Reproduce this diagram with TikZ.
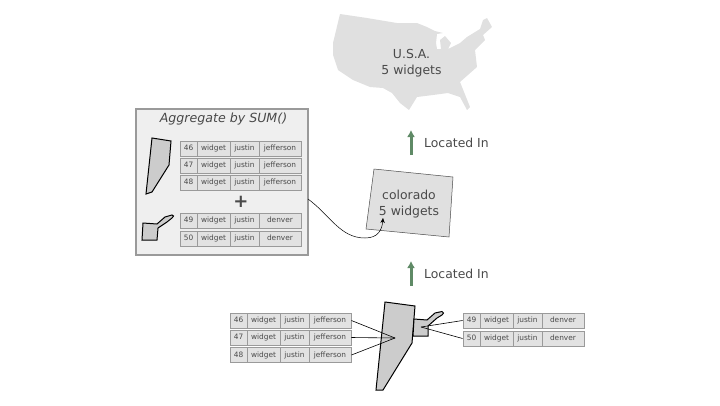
\documentclass[tikz,border=0pt]{standalone}
\usepackage{fontspec}
\setmainfont{DejaVu Sans}
\usetikzlibrary{arrows.meta}
\definecolor{textgray}{HTML}{4A4A4A}
\definecolor{shapegray}{HTML}{CCCCCC}
\definecolor{mapgray}{HTML}{E0E0E0}
\definecolor{cellgray}{HTML}{E2E2E2}
\definecolor{boxgray}{HTML}{EFEFEF}
\definecolor{linegray}{HTML}{9A9A9A}
\definecolor{arrowgreen}{HTML}{5F8A66}
\tikzset{
  cell/.style={draw=linegray,line width=0.9pt,fill=cellgray,text=textgray,inner sep=0pt,minimum height=15pt,text height=5.6pt,text depth=1.4pt,font=\fontsize{7.4}{8}\selectfont},
  county/.style={draw=black,line width=1pt,fill=shapegray,line join=miter},
  link/.style={black,line width=0.6pt},
  locatedin/.style={arrowgreen,line width=3pt,-{Latex[length=7pt,width=8pt]}},
  biglabel/.style={text=textgray,align=center,inner sep=0pt,font=\fontsize{12.4}{16}\selectfont},
  sidelabel/.style={text=textgray,anchor=west,inner sep=0pt,font=\fontsize{12.4}{14}\selectfont}
}
% one row: name, left edge, middle of row, id, county
\newcommand{\recordrow}[5]{
  \node[cell,minimum width=17pt] (#1id) at (#2+8.5,#3) {#4};
  \node[cell,minimum width=33pt] (#1item) at (#2+33.5,#3) {widget};
  \node[cell,minimum width=29pt] (#1user) at (#2+64.5,#3) {justin};
  \node[cell,minimum width=42pt] (#1place) at (#2+100,#3) {#5};
}
\begin{document}
\begin{tikzpicture}[x=1pt,y=-1pt]
    \useasboundingbox (0,0) rectangle (720,405);

    % the country
    \fill[mapgray,line join=round] (340,14)--(367,18)--(397,23)--(417,23)--(427,27)--(435,31)--(443,33)--(437,34)--(436,43)--(437,49)--(441,49)--(440,40)--(445,36)--(451,43)--(448,49)--(460,43)--(467,37)--(480,29)--(483,20)--(487,18)--(492,27)--(483,35)--(485,40)--(475,50)--(477,67)--(460,82)--(470,107)--(467,110)--(460,97)--(448,93)--(433,95)--(417,97)--(409,110)--(400,103)--(392,93)--(383,88)--(370,87)--(353,80)--(338,70)--(333,55)--(333,43)--cycle;
    \node[biglabel] (usa) at (411.5,63) {U.S.A.\\5 widgets};

    \coordinate (usafoot) at (411,130);
    \coordinate (coloradotop) at (411,155);
    \draw[locatedin] (coloradotop)--(usafoot);
    \node[sidelabel] (locatedupper) at (424,142.5) {Located In};

    % the state
    \filldraw[fill=mapgray,draw=textgray,line width=0.5pt] (374,169)--(453,177)--(449,237)--(366,229)--cycle;
    \node[biglabel] (colorado) at (409,204) {colorado\\5 widgets};

    \coordinate (coloradofoot) at (411,261);
    \coordinate (countiestop) at (411,286);
    \draw[locatedin] (countiestop)--(coloradofoot);
    \node[sidelabel] (locatedlower) at (424,273.5) {Located In};

    % the aggregate box
    \node[draw=linegray,line width=1.4pt,fill=boxgray,minimum width=172pt,minimum height=146pt,inner sep=0pt] (aggbox) at (222,182) {};
    \node[text=textgray,inner sep=0pt,font=\fontsize{12.6}{14}\selectfont\itshape] (aggtitle) at (223.5,119) {Aggregate by SUM()};
    \filldraw[county] (152,138)--(171,141)--(169,165)--(152,192)--(146,194)--cycle;
    \filldraw[county] (143,223)--(157,224)--(165,217)--(172,215)--(173.5,216)--(172,218)--(167,222)--(158,228)--(157,240)--(142,240)--cycle;
    \recordrow{boxa}{180}{148.5}{46}{jefferson}
    \recordrow{boxb}{180}{165.5}{47}{jefferson}
    \recordrow{boxc}{180}{182.5}{48}{jefferson}
    \node[text=textgray,inner sep=0pt,font=\fontsize{18}{18}\selectfont\bfseries] (plus) at (241,201.5) {+};
    \recordrow{boxd}{180}{220.5}{49}{denver}
    \recordrow{boxe}{180}{238.5}{50}{denver}

    \coordinate (curvestart) at (308,199);
    \coordinate (curveend) at (383,218);
    \draw[black,line width=0.5pt,-{Stealth[length=5pt,width=4.5pt]}] (curvestart) .. controls (330,215) and (340,238) .. (365,238) .. controls (378,238) and (382,230) .. (curveend);

    % the counties with their rows
    \filldraw[county] (385,302)--(415,306)--(412,343)--(383,390)--(376,390)--cycle;
    \filldraw[county] (414,319)--(427,320)--(435,313)--(442,311.5)--(443.5,313)--(442,315)--(437,318)--(428,326)--(428,336)--(413,336)--cycle;
    \coordinate (jeffhub) at (395,338);
    \coordinate (denverhub) at (421,327);

    \recordrow{lefta}{230}{320.5}{46}{jefferson}
    \recordrow{leftb}{230}{337.5}{47}{jefferson}
    \recordrow{leftc}{230}{355}{48}{jefferson}
    \recordrow{righta}{463}{320.5}{49}{denver}
    \recordrow{rightb}{463}{338.5}{50}{denver}

    \draw[link] (leftaplace.east)--(jeffhub);
    \draw[link] (leftbplace.east)--(jeffhub);
    \draw[link] (leftcplace.east)--(jeffhub);
    \draw[link] (rightaid.west)--(denverhub);
    \draw[link] (rightbid.west)--(denverhub);
\end{tikzpicture}
\end{document}
